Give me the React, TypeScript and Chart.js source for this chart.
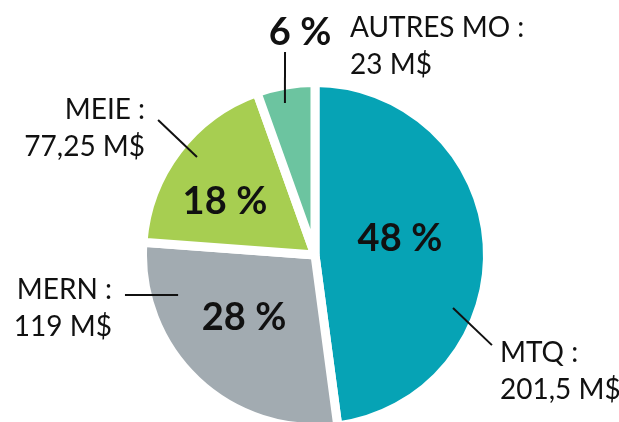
import React, { useEffect, useRef } from 'react';
import { Chart, registerables } from 'chart.js';

Chart.register(...registerables);

// ---- data ----
const categories = ['MTQ', 'MERN', 'MEIE', 'AUTRES MO'];
const amounts = [201.5, 119, 77.25, 23];
const amountLabels = ['201,5 M$', '119 M$', '77,25 M$', '23 M$'];
const percentLabels = ['48\u202F%', '28\u202F%', '18\u202F%', '6\u202F%'];
const sliceColors = ['#06A3B5', '#A2ABB1', '#A7CE51', '#6CC4A0'];

// ---- label layout (angles: degrees clockwise from 12 o'clock; radii: fraction of pie radius) ----
const pctPolar: (number[] | null)[] = [[78, 0.517], [229.3, 0.557], [301.4, 0.628], null];
const leaderFrom = [[111, 0.88], [253.7, 0.849], [309.7, 0.913], [348.8, 0.922]];
const leaderTo = [[117, 1.182], [258.1, 1.156], [310.7, 1.232], [351.6, 1.221]];
// text offsets from leader end: [dx, dy of first line, align]
const textOffset: [number, number, CanvasTextAlign][] = [
  [8, 7, 'left'],
  [-13, -6, 'right'],
  [-13, -11, 'right'],
  [65, -25, 'left'],
];
const outsidePctOffset = [15, -21];

const FONT = 'Lato, "Open Sans", sans-serif';
const BORDER = 9;

const labelPlugin = {
  id: 'sliceLabels',
  afterDatasetsDraw(chart: any) {
    const meta = chart.getDatasetMeta(0);
    const a0 = meta.data[0];
    const cx = a0.x;
    const cy = a0.y;
    const R = a0.outerRadius - BORDER / 2;
    const pt = (deg: number, f: number) => {
      const t = (deg * Math.PI) / 180;
      return [cx + f * R * Math.sin(t), cy - f * R * Math.cos(t)];
    };
    const ctx = chart.ctx as CanvasRenderingContext2D;
    ctx.save();
    ctx.fillStyle = '#111111';
    ctx.strokeStyle = '#111111';
    ctx.lineWidth = 2;
    const pctSize = 38;
    const lblSize = 28;
    const lineGap = 36.5;
    categories.forEach((cat, i) => {
      const [x1, y1] = pt(leaderFrom[i][0], leaderFrom[i][1]);
      const [x2, y2] = pt(leaderTo[i][0], leaderTo[i][1]);
      ctx.beginPath();
      ctx.moveTo(x1, y1);
      ctx.lineTo(x2, y2);
      ctx.stroke();
      ctx.font = `bold ${pctSize}px ${FONT}`;
      ctx.textAlign = 'center';
      ctx.textBaseline = 'alphabetic';
      const pp = pctPolar[i];
      let px: number, py: number;
      if (pp) {
        [px, py] = pt(pp[0], pp[1]);
      } else {
        px = x2 + outsidePctOffset[0];
        py = y2 + outsidePctOffset[1];
      }
      ctx.fillText(percentLabels[i], px, py + 0.358 * pctSize);
      const [dx, dy, align] = textOffset[i];
      ctx.font = `${lblSize}px ${FONT}`;
      ctx.textAlign = align;
      const tx = x2 + dx;
      const ty = y2 + dy + 0.358 * lblSize;
      ctx.fillText(cat + ' :', tx, ty);
      ctx.fillText(amountLabels[i], tx, ty + lineGap);
    });
    ctx.restore();
  },
};

export default function App() {
  const ref = useRef<HTMLCanvasElement>(null);
  useEffect(() => {
    if (!ref.current) return;
    const chart = new Chart(ref.current, {
      type: 'pie',
      data: {
        labels: categories,
        datasets: [
          {
            data: amounts,
            backgroundColor: sliceColors,
            borderColor: '#ffffff',
            borderWidth: BORDER,
            hoverOffset: 0,
          },
        ],
      },
      options: {
        responsive: false,
        animation: false,
        devicePixelRatio: 1,
        layout: { padding: { left: 138, right: 127, top: 78, bottom: 0 } },
        plugins: {
          legend: { display: false },
          tooltip: { enabled: false },
        },
      },
      plugins: [labelPlugin],
    });
    return () => chart.destroy();
  }, []);
  return (
    <div style={{ position: 'fixed', left: 0, top: 0, width: 619, height: 422, overflow: 'hidden', background: '#fff' }}>
      <canvas ref={ref} width={619} height={432} style={{ display: 'block' }} />
    </div>
  );
}
